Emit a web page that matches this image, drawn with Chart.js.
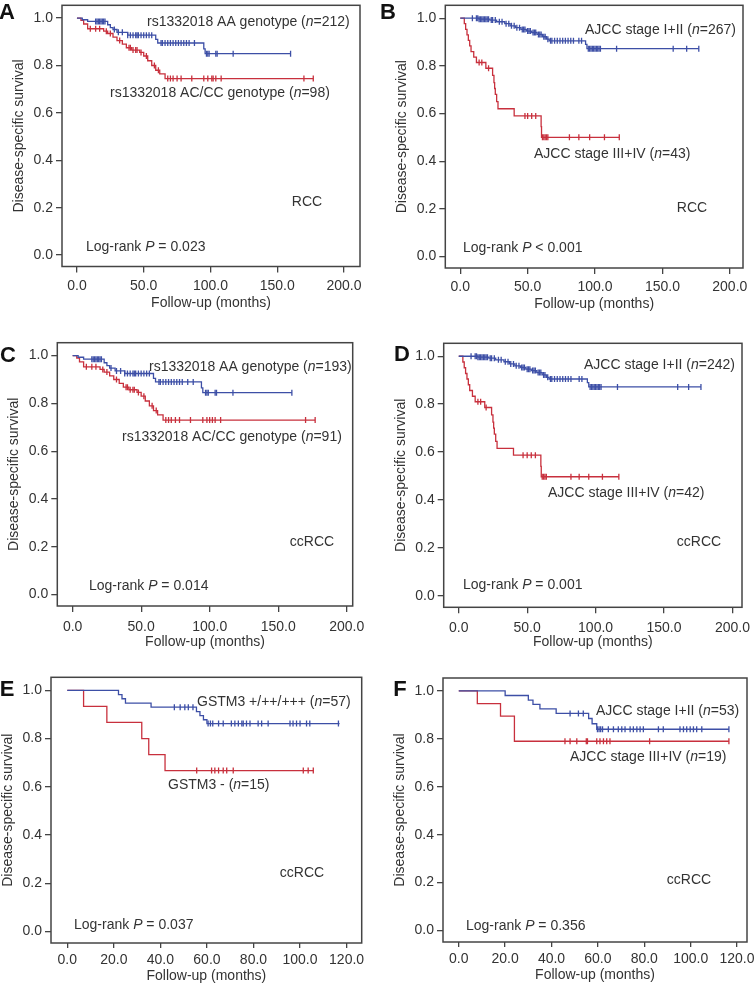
<!DOCTYPE html>
<html>
<head>
<meta charset="utf-8">
<script src="https://cdn.jsdelivr.net/npm/chart.js@4.4.1/dist/chart.umd.min.js"></script>
<style>
  html, body { margin: 0; padding: 0; background: #fff; }
  #wrap { position: relative; width: 754px; height: 986px; overflow: hidden; }
  #wrap canvas { position: absolute; }
</style>
</head>
<body>
<div id="wrap"></div>
<script>
// ---- data ----
// each curve: event times, survival after each event, end of follow-up, censor times
const ticks200 = [0, 50, 100, 150, 200];
const ticks120 = [0, 20, 40, 60, 80, 100, 120];
const yTicks = [0, 0.2, 0.4, 0.6, 0.8, 1.0];

// A: RCC, rs1332018
const aBlueT = [0, 4, 8, 23, 25, 27, 30, 38, 59, 60.5, 95, 96];
const aBlueS = [1, 0.993, 0.986, 0.972, 0.96, 0.952, 0.94, 0.928, 0.91, 0.895, 0.87, 0.85];
const aBlueEnd = 160;
const aBlueCens = [14, 15, 16, 17, 18, 19, 20, 21, 28, 31, 34, 38, 40, 42, 44, 45, 46, 48, 50, 52, 54, 56,
  63, 64, 66, 68, 70, 72, 74, 76, 78, 80, 82, 84, 88, 97, 98, 99, 104, 105, 117, 160];
const aRedT = [0, 3, 5, 8, 20, 23, 27, 30, 34, 37, 41, 47, 50, 53, 56, 59, 62, 66];
const aRedS = [1, 0.99, 0.975, 0.955, 0.945, 0.935, 0.92, 0.905, 0.89, 0.875, 0.865, 0.855, 0.84, 0.82, 0.8, 0.78, 0.765, 0.745];
const aRedEnd = 177;
const aRedCens = [10, 14, 17, 22, 25, 32, 39, 40, 42, 44, 45, 48, 52, 58, 61, 68, 70, 72, 75, 78, 86,
  95, 98, 101, 102, 104, 108, 170, 177];

// B: RCC, AJCC stage
const bBlueT = [0, 14, 22, 27, 33, 37, 41, 45, 49, 53, 57, 61, 64, 66, 93, 94];
const bBlueS = [1, 0.996, 0.992, 0.985, 0.977, 0.968, 0.96, 0.953, 0.946, 0.94, 0.932, 0.922, 0.912, 0.905, 0.89, 0.872];
const bBlueEnd = 177;
const bBlueCens = [9, 12, 13, 14, 15, 16, 17, 18, 19, 20, 21, 23, 24, 26, 29, 31, 34, 36, 38, 40, 42, 44, 46, 47, 48,
  50, 51, 52, 54, 55, 56, 58, 59, 60, 62, 63, 65, 67, 68, 70, 72, 74, 76, 78, 80, 82, 84, 88, 90,
  95, 96, 97, 98, 99, 100, 101, 102, 103, 104, 116, 158, 168, 177];
const bRedT = [0, 3, 4, 5, 6, 7, 8, 10, 12, 19, 24, 25, 25.5, 26, 27, 28, 40, 60, 60.3];
const bRedS = [1, 0.977, 0.953, 0.93, 0.907, 0.884, 0.86, 0.837, 0.814, 0.79, 0.76, 0.73, 0.705, 0.68, 0.65, 0.62, 0.59, 0.545, 0.5];
const bRedEnd = 118;
const bRedCens = [14, 16, 21, 48, 50, 53, 56, 61, 62, 63, 64, 65, 81, 88, 96, 107, 118];

// C: ccRCC, rs1332018
const cBlueT = [0, 4, 8, 23, 25, 27, 31, 38, 59, 60.5, 94, 95];
const cBlueS = [1, 0.993, 0.985, 0.97, 0.958, 0.948, 0.936, 0.925, 0.905, 0.89, 0.865, 0.845];
const cBlueEnd = 160;
const cBlueCens = [14, 15, 16, 17, 18, 19, 20, 21, 28, 32, 35, 38, 40, 42, 44, 45, 46, 48, 50, 52, 54, 56,
  63, 64, 66, 68, 70, 72, 74, 76, 78, 80, 84, 88, 97, 98, 99, 104, 105, 117, 160];
const cRedT = [0, 3, 5, 8, 20, 23, 27, 30, 34, 37, 41, 47, 50, 53, 56, 59, 62, 66];
const cRedS = [1, 0.99, 0.974, 0.953, 0.942, 0.931, 0.915, 0.9, 0.884, 0.868, 0.857, 0.846, 0.83, 0.81, 0.79, 0.77, 0.752, 0.73];
const cRedEnd = 177;
const cRedCens = [10, 14, 17, 22, 25, 32, 39, 40, 42, 44, 45, 48, 52, 58, 61, 68, 70, 72, 75, 78, 86,
  95, 98, 100, 102, 104, 108, 170, 177];

// D: ccRCC, AJCC stage
const dBlueT = [0, 14, 22, 27, 33, 37, 41, 45, 49, 53, 57, 61, 64, 66, 94, 95];
const dBlueS = [1, 0.996, 0.992, 0.985, 0.977, 0.968, 0.96, 0.953, 0.946, 0.94, 0.932, 0.922, 0.912, 0.905, 0.89, 0.872];
const dBlueEnd = 177;
const dBlueCens = [9, 12, 13, 14, 15, 16, 17, 18, 19, 20, 21, 23, 24, 26, 29, 31, 34, 36, 38, 40, 42, 44, 46, 47, 48,
  50, 51, 52, 54, 55, 56, 58, 59, 60, 62, 63, 65, 67, 68, 70, 72, 74, 76, 78, 80, 82, 88, 90,
  96, 97, 98, 99, 100, 101, 102, 103, 104, 116, 160, 168, 177];
const dRedT = [0, 3, 4, 5, 6, 7, 8, 10, 12, 19, 24, 25, 25.5, 26, 27, 28, 40, 60, 60.3];
const dRedS = [1, 0.976, 0.952, 0.928, 0.905, 0.881, 0.857, 0.833, 0.81, 0.786, 0.755, 0.725, 0.7, 0.675, 0.645, 0.615, 0.587, 0.54, 0.497];
const dRedEnd = 117;
const dRedCens = [14, 16, 20, 47, 50, 53, 56, 61, 62, 63, 64, 82, 88, 95, 105, 117];

// E: ccRCC, GSTM3
const eBlueT = [0, 22, 23.5, 25, 36, 55.5, 57, 58.5, 60];
const eBlueS = [1, 0.982, 0.965, 0.947, 0.93, 0.912, 0.895, 0.878, 0.862];
const eBlueEnd = 117;
const eBlueCens = [46, 48.5, 50.5, 52, 54, 60.5, 61.5, 62.5, 65, 67, 70.5, 72, 73.5, 75, 75.6, 77, 78.5,
  82, 83.5, 86.3, 95.7, 97, 98.5, 100, 102.8, 104.2, 116.5];
const eRedT = [0, 7, 17, 32, 35, 42];
const eRedS = [1, 0.933, 0.867, 0.8, 0.733, 0.667];
const eRedEnd = 106;
const eRedCens = [55.6, 62, 63.4, 65, 67, 68.5, 71.3, 101.4, 103.5, 105.7];

// F: ccRCC subgroup, AJCC stage
const fBlueT = [0, 20, 30, 32, 35, 42, 56, 57.5, 59.5];
const fBlueS = [1, 0.981, 0.962, 0.944, 0.925, 0.906, 0.885, 0.863, 0.84];
const fBlueEnd = 116.5;
const fBlueCens = [48, 51.6, 53.7, 59.8, 60.5, 61.2, 62, 64.5, 66.7, 68.8, 70.3, 71.7, 73.9, 75.3, 76.8, 78.2,
  79.6, 86.1, 88.2, 95.4, 96.9, 98.3, 99.8, 101.2, 102.6, 104.8, 116.5];
const fRedT = [0, 8, 18, 24];
const fRedS = [1, 0.947, 0.895, 0.79];
const fRedEnd = 116.5;
const fRedCens = [45.8, 48, 50.9, 55, 55.5, 59.5, 60.9, 62.4, 63.8, 65.2, 82.3, 116.5];

// ---- styling / layout ----
const BLUE = '#3d4fa6';
const RED = '#c8303d';
const INK = '#333333';
const FRAME = '#444444';
const FONT_FAMILY = '"Liberation Sans", Arial, Helvetica, sans-serif';

// survival value at time t from the step function
function survAt(times, surv, t) {
    let s = surv[0];
    for (let i = 0; i < times.length; i++) {
        if (times[i] <= t) s = surv[i];
    }
    return s;
}

function stepPoints(times, surv, end) {
    const pts = times.map((t, i) => ({ x: t, y: surv[i] }));
    pts.push({ x: end, y: surv[surv.length - 1] });
    return pts;
}

function censorPoints(times, surv, cens) {
    return cens.map(t => ({ x: t, y: survAt(times, surv, t) }));
}

function curveSets(times, surv, end, cens, color) {
    return [
        {
            data: stepPoints(times, surv, end),
            stepped: true,
            borderColor: color,
            borderWidth: 1.3,
            pointRadius: 0,
            fill: false
        },
        {
            data: censorPoints(times, surv, cens),
            showLine: false,
            pointStyle: 'line',
            rotation: 90,
            pointRadius: 3,
            borderColor: color,
            pointBorderWidth: 1.3,
            pointBorderColor: color
        }
    ];
}

// draw text where *...* is italic
function drawRich(ctx, str, x, y, align, size) {
    const parts = str.split('*');
    let total = 0;
    parts.forEach((p, i) => {
        ctx.font = (i % 2 ? 'italic ' : '') + size + 'px ' + FONT_FAMILY;
        total += ctx.measureText(p).width;
    });
    let cx = align === 'center' ? x - total / 2 : x;
    ctx.textAlign = 'left';
    ctx.textBaseline = 'middle';
    parts.forEach((p, i) => {
        ctx.font = (i % 2 ? 'italic ' : '') + size + 'px ' + FONT_FAMILY;
        ctx.fillText(p, cx, y);
        cx += ctx.measureText(p).width;
    });
}

const panels = [
    {
        letter: 'A', letterPos: [7, 13],
        canvas: { left: 0, top: 0, w: 377, h: 320 },
        box: { l: 62, t: 1, r: 360, b: 266.5 },
        xMin: -11.2, xMax: 212, xTicks: ticks200, tickLen: 6, tickPad: 5, titleGap: 36.5,
        blue: [aBlueT, aBlueS, aBlueEnd, aBlueCens], red: [aRedT, aRedS, aRedEnd, aRedCens],
        texts: [
            ['rs1332018 AA genotype (*n*=212)', 147, 22, 'left'],
            ['rs1332018 AC/CC genotype (*n*=98)', 110, 93, 'left'],
            ['RCC', 307, 202, 'center'],
            ['Log-rank *P* = 0.023', 86, 247, 'left']
        ]
    },
    {
        letter: 'B', letterPos: [388, 13],
        canvas: { left: 377, top: 0, w: 377, h: 320 },
        box: { l: 68.3, t: 2, r: 366, b: 268 },
        xMin: -11.1, xMax: 209.8, xTicks: ticks200, tickLen: 6, tickPad: 5, titleGap: 36,
        blue: [bBlueT, bBlueS, bBlueEnd, bBlueCens], red: [bRedT, bRedS, bRedEnd, bRedCens],
        texts: [
            ['AJCC stage I+II (*n*=267)', 585, 30, 'left'],
            ['AJCC stage III+IV (*n*=43)', 534, 154, 'left'],
            ['RCC', 692, 208, 'center'],
            ['Log-rank *P* < 0.001', 463, 248, 'left']
        ]
    },
    {
        letter: 'C', letterPos: [8, 356],
        canvas: { left: 0, top: 320, w: 377, h: 330 },
        box: { l: 57.3, t: 22.7, r: 352.7, b: 286 },
        xMin: -11.2, xMax: 204.4, xTicks: ticks200, tickLen: 6, tickPad: 7, titleGap: 36,
        blue: [cBlueT, cBlueS, cBlueEnd, cBlueCens], red: [cRedT, cRedS, cRedEnd, cRedCens],
        texts: [
            ['rs1332018 AA genotype (*n*=193)', 149, 367, 'left'],
            ['rs1332018 AC/CC genotype (*n*=91)', 122, 437, 'left'],
            ['ccRCC', 312, 542, 'center'],
            ['Log-rank *P* = 0.014', 89, 586, 'left']
        ]
    },
    {
        letter: 'D', letterPos: [402, 355],
        canvas: { left: 377, top: 320, w: 377, h: 330 },
        box: { l: 66.7, t: 23.3, r: 365, b: 287.3 },
        xMin: -11, xMax: 207, xTicks: ticks200, tickLen: 6, tickPad: 6, titleGap: 35,
        blue: [dBlueT, dBlueS, dBlueEnd, dBlueCens], red: [dRedT, dRedS, dRedEnd, dRedCens],
        texts: [
            ['AJCC stage I+II (*n*=242)', 584, 365, 'left'],
            ['AJCC stage III+IV (*n*=42)', 548, 493, 'left'],
            ['ccRCC', 699, 542, 'center'],
            ['Log-rank *P* = 0.001', 463, 585, 'left']
        ]
    },
    {
        letter: 'E', letterPos: [7, 690],
        canvas: { left: 0, top: 650, w: 377, h: 336 },
        box: { l: 51, t: 27.3, r: 361.7, b: 293 },
        xMin: -7, xMax: 126.5, xTicks: ticks120, tickLen: 5, tickPad: 4, titleGap: 33.5,
        blue: [eBlueT, eBlueS, eBlueEnd, eBlueCens], red: [eRedT, eRedS, eRedEnd, eRedCens],
        texts: [
            ['GSTM3 +/++/+++ (*n*=57)', 197, 702, 'left'],
            ['GSTM3 - (*n*=15)', 168, 785, 'left'],
            ['ccRCC', 302, 873, 'center'],
            ['Log-rank *P* = 0.037', 74, 925, 'left']
        ]
    },
    {
        letter: 'F', letterPos: [400, 690],
        canvas: { left: 377, top: 650, w: 377, h: 336 },
        box: { l: 66, t: 28, r: 370, b: 292 },
        xMin: -6.8, xMax: 124.3, xTicks: ticks120, tickLen: 5, tickPad: 4, titleGap: 33.5,
        blue: [fBlueT, fBlueS, fBlueEnd, fBlueCens], red: [fRedT, fRedS, fRedEnd, fRedCens],
        texts: [
            ['AJCC stage I+II (*n*=53)', 596, 711, 'left'],
            ['AJCC stage III+IV (*n*=19)', 570, 757, 'left'],
            ['ccRCC', 689, 880, 'center'],
            ['Log-rank *P* = 0.356', 466, 926, 'left']
        ]
    }
];

const wrap = document.getElementById('wrap');

panels.forEach(function(p) {
    const cv = document.createElement('canvas');
    cv.width = p.canvas.w;
    cv.height = p.canvas.h;
    cv.style.left = p.canvas.left + 'px';
    cv.style.top = p.canvas.top + 'px';
    cv.style.width = p.canvas.w + 'px';
    cv.style.height = p.canvas.h + 'px';
    wrap.appendChild(cv);

    const ox = p.canvas.left, oy = p.canvas.top;

    // frame, axis titles and the labels inside the panel
    const decor = {
        id: 'decor' + p.letter,
        afterDraw(chart) {
            const ctx = chart.ctx;
            const ca = chart.chartArea;
            ctx.save();
            ctx.strokeStyle = FRAME;
            ctx.lineWidth = 1.5;
            ctx.strokeRect(ca.left, ca.top, ca.right - ca.left, ca.bottom - ca.top);

            ctx.fillStyle = INK;
            p.texts.forEach(t => drawRich(ctx, t[0], t[1] - ox, t[2] - oy, t[3], 14));

            // x title
            drawRich(ctx, 'Follow-up (months)', (ca.left + ca.right) / 2, ca.bottom + p.titleGap, 'center', 14);
            // y title
            ctx.save();
            ctx.translate(ca.left - 43, (ca.top + ca.bottom) / 2);
            ctx.rotate(-Math.PI / 2);
            drawRich(ctx, 'Disease-specific survival', 0, 0, 'center', 14);
            ctx.restore();

            // panel letter
            ctx.fillStyle = '#111';
            ctx.font = 'bold 22px ' + FONT_FAMILY;
            ctx.textAlign = 'center';
            ctx.textBaseline = 'middle';
            ctx.fillText(p.letter, p.letterPos[0] - ox, p.letterPos[1] - oy);
            ctx.restore();
        }
    };

    new Chart(cv, {
        type: 'line',
        data: {
            datasets: curveSets(p.blue[0], p.blue[1], p.blue[2], p.blue[3], BLUE)
                .concat(curveSets(p.red[0], p.red[1], p.red[2], p.red[3], RED))
        },
        options: {
            animation: false,
            responsive: false,
            maintainAspectRatio: false,
            devicePixelRatio: 1,
            layout: { padding: { left: 0, top: p.box.t, right: p.canvas.w - p.box.r, bottom: 0 } },
            plugins: { legend: { display: false }, tooltip: { enabled: false } },
            scales: {
                x: {
                    type: 'linear',
                    min: p.xMin,
                    max: p.xMax,
                    afterBuildTicks: s => { s.ticks = p.xTicks.map(v => ({ value: v })); },
                    afterFit: s => {
                        s.height = p.canvas.h - p.box.b;
                        s.paddingLeft = 0; s.paddingRight = 0;
                    },
                    border: { display: false },
                    grid: { drawOnChartArea: false, drawTicks: true, tickLength: p.tickLen, color: FRAME, lineWidth: 1.3 },
                    ticks: {
                        autoSkip: false, maxRotation: 0, padding: p.tickPad, color: INK,
                        font: { family: FONT_FAMILY, size: 14 },
                        callback: v => Number(v).toFixed(1)
                    }
                },
                y: {
                    min: -0.048,
                    max: 1.054,
                    afterBuildTicks: s => { s.ticks = yTicks.map(v => ({ value: v })); },
                    afterFit: s => {
                        s.width = p.box.l;
                        s.paddingTop = 0; s.paddingBottom = 0;
                    },
                    border: { display: false },
                    grid: { drawOnChartArea: false, drawTicks: true, tickLength: 6, color: FRAME, lineWidth: 1.3 },
                    ticks: {
                        autoSkip: false, padding: 3, color: INK,
                        font: { family: FONT_FAMILY, size: 14 },
                        callback: v => Number(v).toFixed(1)
                    }
                }
            }
        },
        plugins: [decor]
    });
});
</script>
</body>
</html>
